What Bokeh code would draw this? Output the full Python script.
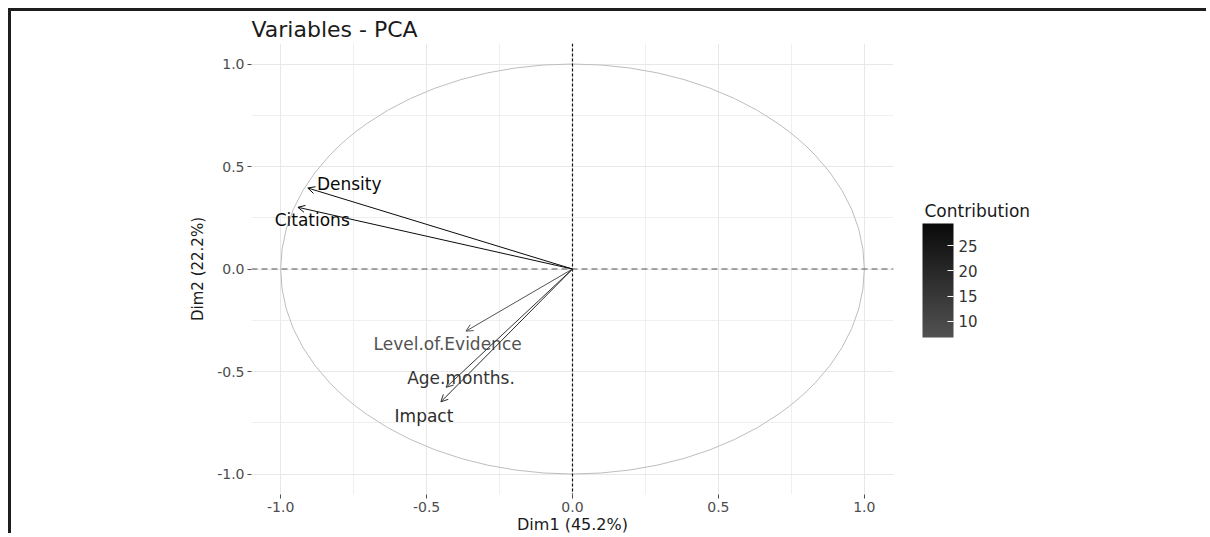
import numpy as np
from bokeh.plotting import figure
from bokeh.models import (Range1d, Span, Arrow, OpenHead, ColumnDataSource, Label,
                          LinearColorMapper, ColorBar, FixedTicker, PrintfTickFormatter)
from bokeh.embed import file_html
from bokeh.resources import INLINE
from bokeh.core.properties import value

# ---- data ----
variables = ["Density", "Citations", "Level.of.Evidence", "Age.months.", "Impact"]
dim1 = [-0.907, -0.941, -0.365, -0.433, -0.451]
dim2 = [0.395, 0.301, -0.303, -0.577, -0.648]
contrib = [29.4, 29.2, 6.8, 15.8, 18.8]
label_x = [-0.765, -0.892, -0.428, -0.382, -0.509]
label_y = [0.416, 0.237, -0.368, -0.532, -0.716]
x_ticks = [-1.0, -0.5, 0.0, 0.5, 1.0]
y_ticks = [-1.0, -0.5, 0.0, 0.5, 1.0]
minor_ticks = [-0.75, -0.25, 0.25, 0.75]
legend_ticks = [10, 15, 20, 25]
title = "Variables - PCA"
x_title = "Dim1 (45.2%)"
y_title = "Dim2 (22.2%)"
legend_title = "Contribution"

FONT = "DejaVu Sans"

# grey gradient palette (low contribution -> lighter grey, high -> near black)
lo_g, hi_g = 0x52, 0x0A
palette = ["#%02x%02x%02x" % ((v,) * 3) for v in
           [int(round(lo_g + (hi_g - lo_g) * i / 255)) for i in range(256)]]
cmin, cmax = min(contrib), max(contrib)
mapper = LinearColorMapper(palette=palette, low=cmin, high=cmax)

def color_for(c):
    idx = int(round((c - cmin) / (cmax - cmin) * 255))
    return palette[max(0, min(255, idx))]

colors = [color_for(c) for c in contrib]

p = figure(width=1198, height=525, x_range=Range1d(-1.1, 1.1), y_range=Range1d(-1.1, 1.1),
           output_backend="svg", toolbar_location=None,
           min_border_left=240, min_border_right=316, min_border_top=32, min_border_bottom=39)
p.styles = {"margin-left": "8px", "margin-top": "8px",
            "border-top": "3px solid #1e1e1e", "border-left": "3px solid #1e1e1e"}

p.background_fill_color = "white"
p.border_fill_color = "white"
p.outline_line_color = None

p.title.text = title
p.title.text_font = FONT
p.title.text_font_size = "22px"
p.title.text_font_style = "normal"
p.title.text_color = "#1a1a1a"
p.title.align = "left"
p.title.standoff = 4

# axes
for ax, ticks in ((p.xaxis, x_ticks), (p.yaxis, y_ticks)):
    ax.ticker = FixedTicker(ticks=ticks, minor_ticks=minor_ticks)
    ax.formatter = PrintfTickFormatter(format="%.1f")
    ax.axis_line_color = None
    ax.major_tick_line_color = "#4d4d4d"
    ax.major_tick_in = 0
    ax.major_tick_out = 4
    ax.minor_tick_line_color = None
    ax.major_label_text_font = FONT
    ax.major_label_text_font_size = "14px"
    ax.major_label_text_color = "#4d4d4d"
    ax.axis_label_text_font = FONT
    ax.axis_label_text_font_style = "normal"
    ax.axis_label_text_color = "#1a1a1a"
p.xaxis.axis_label = x_title
p.yaxis.axis_label = y_title
p.xaxis.axis_label_text_font_size = "16px"
p.yaxis.axis_label_text_font_size = "15px"
p.xaxis.major_label_standoff = 3
p.xaxis.axis_label_standoff = 0
p.yaxis.major_label_standoff = 3
p.yaxis.axis_label_standoff = 7

for g in (p.xgrid, p.ygrid):
    g.grid_line_color = "#e8e8e8"
    g.grid_line_width = 1
    g.minor_grid_line_color = "#efefef"
    g.minor_grid_line_width = 1

# correlation circle
p.ellipse(x=0, y=0, width=2, height=2, fill_color=None, line_color="#bdbdbd", line_width=1)

# reference lines
p.add_layout(Span(location=0, dimension="width", line_color="#888888",
                  line_dash="6 4", line_width=1.3))
p.add_layout(Span(location=0, dimension="height", line_color="#111111",
                  line_dash="3 2", line_width=1.2))

# arrows
for i in range(len(variables)):
    p.add_layout(Arrow(x_start=0, y_start=0, x_end=dim1[i], y_end=dim2[i],
                       line_color=colors[i], line_width=1,
                       end=OpenHead(size=7, line_color=colors[i], line_width=1)))

# labels
lab_src = ColumnDataSource(dict(x=label_x, y=label_y, text=variables, color=colors))
p.text(x="x", y="y", text="text", source=lab_src, text_color="color",
       text_font=value(FONT), text_font_size="17px",
       text_align="center", text_baseline="middle")

# colour bar legend
cb = ColorBar(color_mapper=mapper, ticker=FixedTicker(ticks=legend_ticks),
              width=31, height=114, padding=0, location=(671, 157),
              major_label_text_font=FONT, major_label_text_font_size="15px",
              major_label_text_color="#333333", label_standoff=5,
              major_tick_line_color="white", major_tick_in=6, major_tick_out=0,
              bar_line_color=None, border_line_color=None, background_fill_color=None)
p.add_layout(cb, "center")
p.add_layout(Label(x=31, y=284, x_units="screen", y_units="screen", text=legend_title,
                   text_font=FONT, text_font_size="17px", text_color="#1a1a1a",
                   text_align="left", text_baseline="middle"), "right")

open("out.html", "w").write(file_html(p, INLINE))
